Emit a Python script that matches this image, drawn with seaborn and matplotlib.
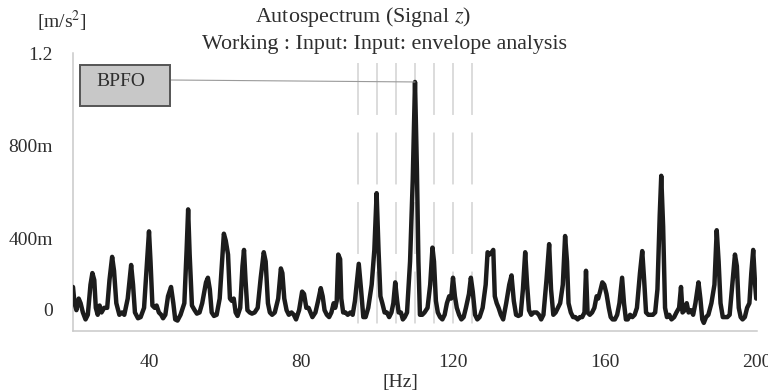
import matplotlib
matplotlib.use("Agg")
import matplotlib.pyplot as plt
import matplotlib.transforms as mtransforms
from matplotlib.patches import Rectangle
import seaborn as sns
import pandas as pd

# Envelope autospectrum, frequency [Hz] and amplitude [m/s^2]
freq = [
    20.0, 20.4, 20.9, 21.5, 22.0, 22.6, 23.3, 23.9, 24.6, 25.1, 25.6, 26.0, 26.5, 27.0, 27.5, 28.2,
    29.0, 29.6, 30.3, 30.8, 31.4, 32.2, 32.9, 33.5, 34.4, 35.3, 35.8, 36.3, 37.1, 37.8, 38.7, 39.5,
    40.0, 40.4, 40.9, 41.5, 42.0, 42.6, 43.2, 43.7, 44.3, 45.0, 45.8, 46.4, 46.9, 47.5, 48.3, 49.3,
    49.9, 50.3, 50.7, 51.3, 52.0, 52.6, 53.3, 54.0, 55.0, 55.5, 56.0, 56.5, 57.1, 57.8, 58.6, 59.3,
    59.7, 60.2, 60.8, 61.3, 61.8, 62.3, 62.8, 63.3, 64.0, 64.6, 65.0, 65.4, 65.9, 66.5, 67.1, 67.8,
    68.6, 69.4, 70.2, 70.7, 71.3, 71.8, 72.4, 73.1, 74.0, 74.7, 75.1, 75.6, 76.2, 76.8, 77.5, 78.1,
    78.7, 79.5, 80.3, 80.8, 81.4, 82.0, 82.5, 83.0, 83.8, 84.5, 85.2, 85.7, 86.2, 86.8, 87.4, 88.0,
    88.6, 89.0, 89.4, 89.8, 90.3, 90.6, 91.1, 91.7, 92.3, 93.0, 93.6, 94.2, 95.2, 95.8, 96.4, 97.0,
    97.7, 98.6, 99.3, 99.9, 100.4, 100.9, 101.4, 102.0, 102.6, 103.2, 103.8, 104.3, 104.8, 105.3, 105.7, 106.3,
    106.8, 107.3, 107.9, 108.7, 109.4, 110.0, 110.5, 110.9, 111.3, 111.9, 112.5, 113.3, 114.0, 114.6, 115.0, 115.5,
    116.0, 116.6, 117.2, 117.8, 118.4, 119.0, 119.5, 120.0, 120.5, 121.0, 121.6, 122.2, 122.8, 123.4, 124.2, 124.7,
    125.2, 125.8, 126.4, 127.0, 127.8, 128.6, 129.1, 129.6, 130.2, 130.6, 131.0, 131.5, 132.0, 132.6, 133.2, 134.0,
    134.8, 135.4, 136.0, 136.6, 137.2, 137.8, 138.4, 139.0, 139.5, 140.0, 140.6, 141.2, 142.0, 142.6, 143.2, 143.8,
    144.6, 145.3, 145.8, 146.4, 147.0, 147.6, 148.2, 148.9, 149.5, 150.0, 150.4, 151.0, 151.6, 152.2, 152.8, 153.4,
    154.0, 154.6, 155.0, 155.4, 156.0, 156.6, 157.2, 157.8, 158.2, 158.7, 159.3, 159.8, 160.4, 161.0, 161.5, 162.0,
    162.6, 163.2, 163.8, 164.5, 165.0, 165.5, 166.0, 166.6, 167.2, 167.8, 168.4, 169.2, 169.8, 170.3, 170.8, 171.4,
    172.0, 172.6, 173.2, 173.8, 174.4, 174.8, 175.3, 175.8, 176.3, 176.9, 177.5, 178.2, 178.8, 179.5, 180.0, 180.4,
    181.0, 181.5, 182.0, 182.6, 183.2, 183.8, 184.6, 185.1, 185.6, 186.0, 186.6, 187.2, 188.0, 188.8, 189.4, 189.9,
    190.4, 191.0, 191.6, 192.2, 192.8, 193.5, 194.2, 194.7, 195.2, 195.7, 196.2, 196.8, 197.4, 198.0, 198.5, 199.0,
    199.5, 199.8, 200.0,
]
amplitude = [
    0.19, 0.12, 0.09, 0.14, 0.12, 0.08, 0.05, 0.07, 0.20, 0.25, 0.22, 0.10, 0.07, 0.11, 0.08, 0.10,
    0.10, 0.22, 0.32, 0.26, 0.12, 0.07, 0.08, 0.07, 0.14, 0.285, 0.20, 0.08, 0.055, 0.06, 0.10, 0.30,
    0.43, 0.30, 0.11, 0.10, 0.11, 0.08, 0.07, 0.055, 0.07, 0.15, 0.19, 0.12, 0.05, 0.045, 0.07, 0.12,
    0.35, 0.525, 0.33, 0.11, 0.09, 0.075, 0.08, 0.12, 0.21, 0.23, 0.18, 0.08, 0.065, 0.07, 0.14, 0.32,
    0.42, 0.39, 0.33, 0.14, 0.13, 0.14, 0.08, 0.065, 0.10, 0.28, 0.35, 0.22, 0.09, 0.08, 0.075, 0.08,
    0.10, 0.23, 0.34, 0.30, 0.12, 0.08, 0.07, 0.08, 0.14, 0.27, 0.25, 0.14, 0.09, 0.07, 0.08, 0.07,
    0.05, 0.09, 0.17, 0.16, 0.10, 0.10, 0.08, 0.06, 0.08, 0.13, 0.185, 0.15, 0.09, 0.07, 0.06, 0.08,
    0.12, 0.10, 0.13, 0.33, 0.31, 0.14, 0.08, 0.08, 0.07, 0.08, 0.07, 0.13, 0.29, 0.18, 0.06, 0.06,
    0.10, 0.20, 0.35, 0.595, 0.35, 0.15, 0.12, 0.08, 0.08, 0.06, 0.08, 0.12, 0.21, 0.13, 0.08, 0.08,
    0.05, 0.06, 0.08, 0.30, 0.65, 1.075, 0.70, 0.30, 0.07, 0.07, 0.08, 0.10, 0.20, 0.36, 0.30, 0.13,
    0.08, 0.06, 0.05, 0.07, 0.12, 0.15, 0.14, 0.23, 0.15, 0.10, 0.07, 0.05, 0.06, 0.10, 0.16, 0.23,
    0.17, 0.07, 0.05, 0.06, 0.10, 0.20, 0.34, 0.33, 0.34, 0.35, 0.15, 0.12, 0.10, 0.07, 0.05, 0.12,
    0.20, 0.24, 0.13, 0.07, 0.065, 0.07, 0.18, 0.34, 0.20, 0.09, 0.07, 0.08, 0.08, 0.07, 0.05, 0.07,
    0.22, 0.375, 0.18, 0.07, 0.08, 0.10, 0.12, 0.20, 0.41, 0.30, 0.12, 0.08, 0.06, 0.06, 0.05, 0.06,
    0.06, 0.08, 0.26, 0.08, 0.07, 0.08, 0.10, 0.15, 0.14, 0.17, 0.21, 0.20, 0.16, 0.10, 0.06, 0.05,
    0.05, 0.07, 0.12, 0.23, 0.12, 0.05, 0.05, 0.07, 0.06, 0.07, 0.10, 0.25, 0.345, 0.22, 0.08, 0.07,
    0.07, 0.07, 0.08, 0.18, 0.50, 0.67, 0.45, 0.10, 0.06, 0.07, 0.05, 0.06, 0.08, 0.10, 0.19, 0.08,
    0.09, 0.12, 0.08, 0.09, 0.07, 0.12, 0.21, 0.14, 0.05, 0.035, 0.06, 0.07, 0.12, 0.20, 0.435, 0.30,
    0.12, 0.06, 0.06, 0.06, 0.07, 0.20, 0.33, 0.28, 0.10, 0.06, 0.05, 0.06, 0.10, 0.12, 0.25, 0.35,
    0.20, 0.14, 0.15,
]

# Cursor positions around the BPFO harmonic
cursor_hz = [95, 100, 105, 110, 115, 120, 125]
bpfo_hz = 110.0
bpfo_amp = 1.075

y_ticks = [0.0, 0.4, 0.8, 1.2]
y_labels = ["0", "400m", "800m", "1.2"]
x_ticks = [40, 80, 120, 160, 200]

W, H = 768, 390
sns.set_style("white")
plt.rcParams["font.family"] = ["Liberation Serif", "DejaVu Serif"]
plt.rcParams["mathtext.fontset"] = "stix"

fig = plt.figure(figsize=(W / 100, H / 100), dpi=100)
ax = fig.add_axes([73 / W, 1 - 331 / H, (757 - 73) / W, (331 - 53) / H])

def fx(px):
    return px / W

def fy(py):
    return 1 - py / H

grid_grey = "#c9c9c9"
text_col = "#2e2e2e"

# Cursor lines (drawn from the top down)
for c in cursor_hz:
    ax.plot([c, c], [1.157, 0.0], color="#d2d2d2", lw=1.1,
            dashes=(34, 11.5), zorder=1)

df = pd.DataFrame({"Hz": freq, "amp": amplitude})
sns.lineplot(data=df, x="Hz", y="amp", ax=ax, color="#1c1c1c", lw=3.2,
             zorder=3, sort=False)

ax.set_xlim(20, 200)
ax.set_ylim(0, 1.2)
ax.set_xticks(x_ticks)
ax.set_xticklabels([str(v) for v in x_ticks])
ax.set_yticks(y_ticks)
ax.set_yticklabels(y_labels)
ax.set_xlabel("")
ax.set_ylabel("")

for s in ["top", "right"]:
    ax.spines[s].set_visible(False)
for s in ["left", "bottom"]:
    ax.spines[s].set_color(grid_grey)
    ax.spines[s].set_linewidth(1.1)

ax.tick_params(axis="y", length=9.4, width=1.1, color=grid_grey, pad=5,
               labelsize=14, labelcolor=text_col)
ax.tick_params(axis="x", length=6.5, width=1.1, color=grid_grey, pad=10,
               labelsize=14, labelcolor=text_col)

# the zero label sits above its tick
zero_lab = ax.yaxis.get_major_ticks()[0].label1
zero_lab.set_transform(zero_lab.get_transform() +
                       mtransforms.ScaledTranslation(0, 0.21, fig.dpi_scale_trans))

# Titles and unit labels
fig.text(fx(363), fy(17), r"Autospectrum (Signal $z$)", ha="center", va="center",
         fontsize=15.8, color=text_col)
fig.text(fx(384), fy(44), "Working : Input: Input: envelope analysis", ha="center",
         va="center", fontsize=15.8, color=text_col)
fig.text(fx(62), fy(21), r"[m/s$^{2}$]", ha="center", va="center",
         fontsize=14, color=text_col)
fig.text(fx(400), fy(382), "[Hz]", ha="center", va="center",
         fontsize=14, color=text_col)

# BPFO marker box with leader line to the peak
box = Rectangle((fx(80), fy(106)), fx(90), 41 / H, transform=fig.transFigure,
                facecolor="#c8c8c8", edgecolor="#555555", lw=1.4, zorder=5)
fig.add_artist(box)
fig.text(fx(96), fy(81), "BPFO", ha="left", va="center", fontsize=14,
         color=text_col, zorder=6)
ax.annotate("", xy=(bpfo_hz, bpfo_amp), xycoords="data",
            xytext=(170, H - 80), textcoords="figure pixels",
            arrowprops=dict(arrowstyle="-", color="#9a9a9a", lw=0.8,
                            shrinkA=0, shrinkB=0), zorder=4)

fig.savefig("out.png", dpi=100)
